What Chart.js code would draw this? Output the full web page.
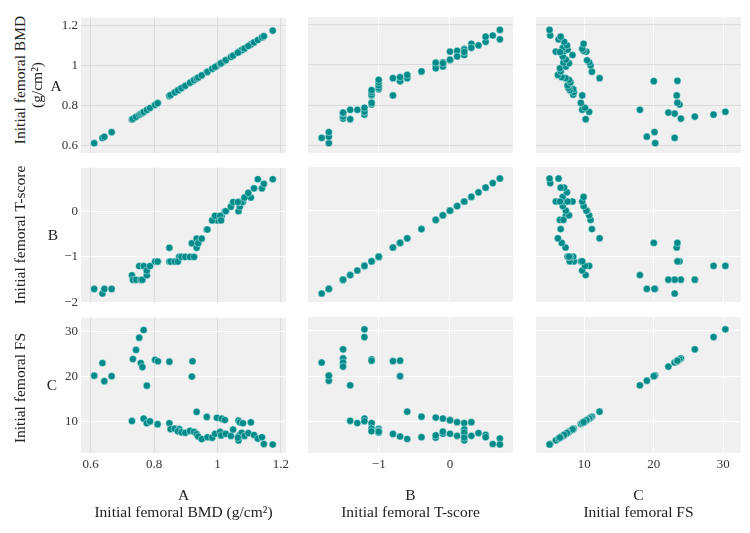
<!DOCTYPE html>
<html><head><meta charset="utf-8">
<script src="https://cdn.jsdelivr.net/npm/chart.js@4.4.0/dist/chart.umd.min.js"></script>
<style>
body{margin:0;background:#fff;width:750px;height:533px;overflow:hidden;position:relative;font-family:'Liberation Serif','Times New Roman',serif;color:#222}
canvas{position:absolute}
.lbl{position:absolute;font-size:15.5px;white-space:nowrap;transform:translate(-50%,-50%);line-height:1}
.rot{transform:translate(-50%,-50%) rotate(-90deg)}
</style></head><body>
<script>
// one entry per subject: BMD (g/cm2), T-score, FS
const bmd = [0.611,0.637,0.643,0.666,0.730,0.733,0.743,0.753,0.767,0.758,0.763,0.777,0.767,0.777,0.787,0.803,0.812,0.811,0.848,0.848,0.921,0.919,0.934,0.966,0.998,1.013,1.023,1.066,1.070,1.080,1.105,
  0.852,0.865,0.879,0.875,0.886,0.898,0.913,0.926,0.934,0.939,0.950,0.968,0.983,0.992,1.008,1.011,1.026,1.042,1.049,1.066,1.069,1.076,1.085,1.097,1.115,1.127,1.140,1.146,1.174,1.064];
const tscore = [-1.7,-1.8,-1.7,-1.7,-1.4,-1.5,-1.5,-1.2,-1.2,-1.5,-1.5,-1.4,-1.2,-1.3,-1.2,-1.1,-1.1,-1.1,-0.8,-1.1,-0.7,-0.7,-0.6,-0.4,-0.2,-0.1,0.0,0.0,0.1,0.2,0.3,
  -1.1,-1.1,-1.0,-1.1,-1.0,-1.0,-1.0,-1.0,-0.8,-0.7,-0.6,-0.4,-0.2,-0.1,-0.1,-0.2,0.0,0.1,0.2,0.2,0.2,0.2,0.3,0.4,0.5,0.7,0.5,0.6,0.7,0.2];
const fs = [20.2,23.0,19.0,20.1,10.2,23.9,25.9,28.6,30.3,23.0,22.1,18.0,10.7,9.7,10.1,23.7,23.4,9.5,23.3,9.7,23.4,20.0,12.2,11.1,10.9,10.7,10.4,10.3,9.9,9.7,9.9,
  8.4,8.5,8.4,7.9,7.7,7.6,8.0,7.8,7.3,6.75,6.2,6.6,6.5,7.35,7.8,7.0,7.35,6.9,8.3,5.9,7.1,7.6,6.9,7.5,7.1,6.3,6.6,5.1,5.0,6.5];

const bmdTicks = [0.6, 0.8, 1, 1.2];
const tTicks = [-2, -1, 0];
const fsTicks = [10, 20, 30];

const rowLetters = ['A', 'B', 'C'];
const varTitles = ['Initial femoral BMD (g/cm\u00b2)', 'Initial femoral T-score', 'Initial femoral FS'];

const vars = [
  {vals: bmd, ticks: bmdTicks, xr: [0.5694, 1.2158], yr: [0.562, 1.238], grid: '#dadada'},
  {vals: tscore, ticks: tTicks, xr: [-1.992, 0.884], yr: [-2.007, 0.95], grid: '#ffffff'},
  {vals: fs, ticks: fsTicks, xr: [3.05, 32.55], yr: [3.12, 33.0], grid: '#ffffff'}
];

const colLeft = [81, 308, 536], rowTop = [17, 167, 317], W = 205, H = 136;
const ML = 50, MT = 10, MR = 10, MB = 30;
const FONT = "'Liberation Serif', 'Times New Roman', serif";

function fmt(v) { return v < 0 ? '\u2212' + Math.abs(v) : String(v); }

const bgPlugin = {
  id: 'bg',
  beforeDraw(chart) {
    const a = chart.chartArea, ctx = chart.ctx;
    ctx.save(); ctx.fillStyle = '#f0f0f0';
    ctx.fillRect(a.left, a.top, a.right - a.left, a.bottom - a.top);
    ctx.restore();
  }
};

for (let r = 0; r < 3; r++) {
  for (let c = 0; c < 3; c++) {
    const xv = vars[c], yv = vars[r];
    const cv = document.createElement('canvas');
    cv.width = W + ML + MR; cv.height = H + MT + MB;
    cv.style.left = (colLeft[c] - ML) + 'px';
    cv.style.top = (rowTop[r] - MT) + 'px';
    cv.style.width = cv.width + 'px'; cv.style.height = cv.height + 'px';
    document.body.appendChild(cv);
    const pts = xv.vals.map((x, i) => ({x: x, y: yv.vals[i]}));
    new Chart(cv, {
      type: 'scatter',
      data: {datasets: [{data: pts, backgroundColor: '#008b8b', borderColor: 'rgba(255,255,255,0.7)', borderWidth: 0.6, pointRadius: 3.6, pointHoverRadius: 3.6}]},
      plugins: [bgPlugin],
      options: {
        responsive: false, animation: false, devicePixelRatio: 1,
        layout: {padding: {top: MT, right: MR, left: 0, bottom: 0}},
        plugins: {legend: {display: false}, tooltip: {enabled: false}},
        scales: {
          x: {
            type: 'linear', position: 'bottom', min: xv.xr[0], max: xv.xr[1],
            afterBuildTicks: s => { s.ticks = xv.ticks.filter(v => v >= s.min && v <= s.max).map(v => ({value: v})); },
            afterFit: s => { s.height = MB; },
            grid: {color: xv.grid, lineWidth: 1, drawTicks: false},
            border: {display: false},
            ticks: {display: r === 2, padding: 4, color: '#333', font: {family: FONT, size: 13}, callback: v => fmt(v), maxRotation: 0, autoSkip: false}
          },
          y: {
            type: 'linear', position: 'left', min: yv.yr[0], max: yv.yr[1],
            afterBuildTicks: s => { s.ticks = yv.ticks.filter(v => v >= s.min && v <= s.max).map(v => ({value: v})); },
            afterFit: s => { s.width = ML; },
            grid: {color: yv.grid, lineWidth: 1, drawTicks: false},
            border: {display: false},
            ticks: {display: c === 0, padding: 3, color: '#333', font: {family: FONT, size: 13}, callback: v => fmt(v), autoSkip: false}
          }
        }
      }
    });
  }
}

function addLabel(text, x, y, rot) {
  const d = document.createElement('div');
  d.className = 'lbl' + (rot ? ' rot' : '');
  d.textContent = text;
  d.style.left = x + 'px'; d.style.top = y + 'px';
  document.body.appendChild(d);
}
// left titles
addLabel('Initial femoral BMD', 20, 80, true);
addLabel('(g/cm\u00b2)', 37, 85, true);
addLabel('Initial femoral T-score', 20, 235, true);
addLabel('Initial femoral FS', 20, 388, true);
const rowLetterX = [56, 53, 52], rowCY = [86, 235, 385];
for (let r = 0; r < 3; r++) addLabel(rowLetters[r], rowLetterX[r], rowCY[r], false);
// bottom titles
for (let c = 0; c < 3; c++) {
  const cx = colLeft[c] + W / 2;
  addLabel(rowLetters[c], cx, 495, false);
  addLabel(varTitles[c], cx, 512, false);
}
</script>
</body></html>
